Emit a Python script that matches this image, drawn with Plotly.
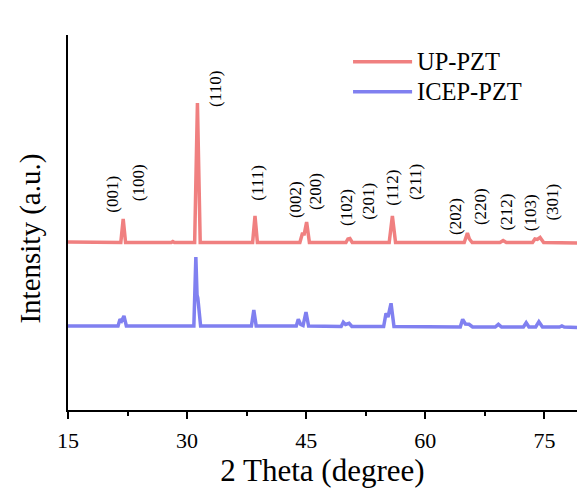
import plotly.graph_objects as go

# ---- data ----
red_x = [15, 21.65, 21.95, 22.25, 28.0, 28.2, 28.4, 30.95, 31.3, 31.65, 38.25, 38.55, 38.85,
         44.2, 44.5, 44.75, 45.05, 45.4, 50.0, 50.25, 50.5, 50.8, 55.45, 55.85, 56.25,
         64.9, 65.3, 65.55, 65.9, 69.4, 69.8, 70.2, 73.5, 73.8, 74.1, 74.45, 74.9, 79.2]
red_y = [168, 167.5, 191, 167.5, 167.5, 168.5, 167.5, 167.5, 307, 167.5, 167.5, 194, 167.5,
         167.5, 176, 176, 188, 167.5, 167.5, 171, 171.5, 167.5, 167.5, 194, 167.5,
         167.5, 177, 171, 167.5, 167.5, 169.5, 167.5, 167.5, 171, 170.5, 172.5, 167.5, 167]

blue_x = [15, 21.3, 21.55, 21.75, 22.05, 22.35, 30.85, 31.1, 31.25, 31.35, 31.7, 38.1, 38.4, 38.7,
          43.75, 44.0, 44.3, 44.6, 44.97, 45.3, 49.4, 49.67, 49.95, 50.4, 50.75,
          54.75, 55.05, 55.3, 55.68, 56.05, 64.4, 64.7, 65.05, 65.5, 65.95,
          68.2, 68.5, 68.8, 69.2, 69.6, 72.35, 72.7, 73.05, 73.9, 74.3, 74.75,
          76.9, 77.2, 77.5, 79.2]
blue_y = [84, 84, 90.7, 89, 94, 84, 84, 153, 115, 112, 84, 84, 100, 84,
          84, 90.7, 85.5, 84.5, 98, 84, 83.5, 87.7, 85.5, 86.7, 83.5,
          83.5, 96.7, 93, 106.7, 83.5, 83, 90.7, 86, 85.7, 83,
          83, 83.5, 83, 85.7, 83, 83, 87.3, 83, 83, 88.3, 83,
          83, 84, 83, 82.5]

series_names = ["UP-PZT", "ICEP-PZT"]

label_text = ["(001)", "(100)", "(110)", "(111)", "(002)", "(200)", "(102)", "(201)",
              "(112)", "(211)", "(202)", "(220)", "(212)", "(103)", "(301)"]
label_x = [20.5, 23.85, 33.5, 38.77, 43.6, 46.1, 50.0, 52.75,
           55.77, 58.7, 63.74, 66.9, 70.1, 73.2, 75.9]
label_y = [216, 227, 321, 227, 210, 219, 203, 209,
           222, 228, 193, 203, 198, 197, 208]

x_ticks = [15, 30, 45, 60, 75]

# ---- styles ----
RED = "#F08080"
BLUE = "#8080F0"
FONT = "Liberation Serif"

fig = go.Figure()
fig.add_trace(go.Scatter(x=red_x, y=red_y, mode="lines", name=series_names[0],
                         line=dict(color=RED, width=3.5), showlegend=False))
fig.add_trace(go.Scatter(x=blue_x, y=blue_y, mode="lines", name=series_names[1],
                         line=dict(color=BLUE, width=3.5), showlegend=False))

for t, x, y in zip(label_text, label_x, label_y):
    fig.add_annotation(x=x, y=y, xref="x", yref="y", text=t, textangle=-90,
                       showarrow=False, font=dict(family=FONT, size=17, color="black"))

# manual legend
for i, (name, col) in enumerate(zip(series_names, [RED, BLUE])):
    yp = 0.929 - i * 0.080
    fig.add_shape(type="line", xref="paper", yref="paper", x0=0.56, x1=0.676,
                  y0=yp, y1=yp, line=dict(color=col, width=3.5))
    fig.add_annotation(xref="paper", yref="paper", x=0.682, y=yp, text=name,
                       xanchor="left", yanchor="middle", showarrow=False,
                       font=dict(family=FONT, size=24.5, color="black"))

# y axis title
fig.add_annotation(xref="paper", yref="paper", x=-0.074, y=0.458, xanchor="center",
                   yanchor="middle", text="Intensity (a.u.)", textangle=-90, showarrow=False,
                   font=dict(family=FONT, size=29, color="black"))

fig.update_layout(
    width=577, height=495,
    margin=dict(l=68, r=0, t=35, b=85),
    paper_bgcolor="white", plot_bgcolor="white",
    font=dict(family=FONT, color="black"),
    xaxis=dict(range=[15, 79.1], tickvals=x_ticks, ticks="outside", ticklen=7, tickwidth=2,
               tickcolor="black", showline=True, linecolor="black", linewidth=2,
               showgrid=False, zeroline=False, tickfont=dict(family=FONT, size=22),
               ticklabelstandoff=3,
               minor=dict(dtick=7.5, tick0=15, ticks="outside", ticklen=4, tickwidth=2,
                          tickcolor="black"),
               title=dict(text="2 Theta (degree)", font=dict(family=FONT, size=31), standoff=4)),
    yaxis=dict(range=[0, 375], showticklabels=False, ticks="", showline=True,
               linecolor="black", linewidth=2, showgrid=False, zeroline=False),
)

fig.write_html("out.html")
